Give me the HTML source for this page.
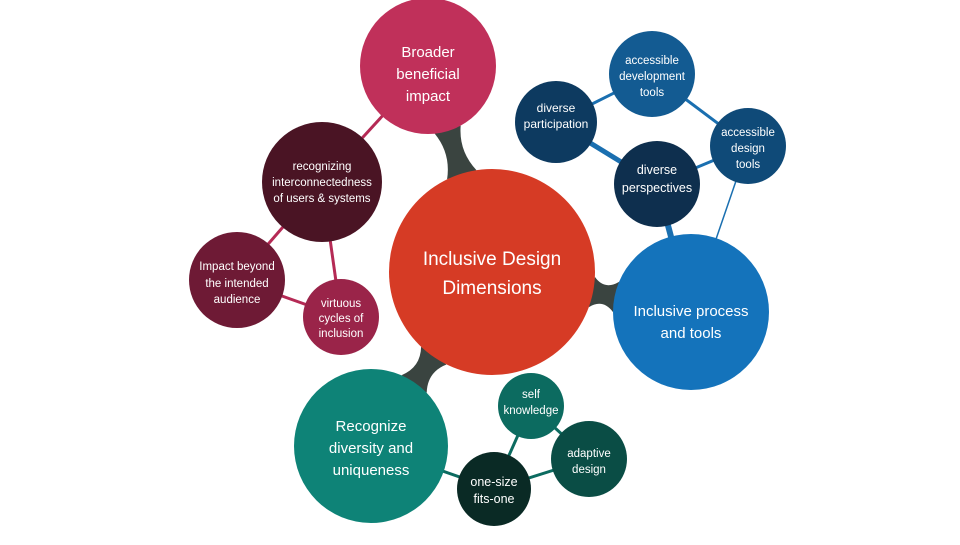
<!DOCTYPE html>
<html><head><meta charset="utf-8"><style>
html,body{margin:0;padding:0;background:#fff;}
svg text{font-family:"Liberation Sans",sans-serif;fill:#fff;text-anchor:middle;}
</style></head><body>
<svg width="960" height="540" viewBox="0 0 960 540" xmlns="http://www.w3.org/2000/svg">
<g fill="#3a4440">
<path d="M460.7 125.6 Q458.6 151.1 476.5 170.2 L447.1 179.3 Q451 153.5 434.7 133.6 Z"/>
<path d="M594.9 276.9 Q604.5 290.6 619.2 281.7 L613.1 312.2 Q602.9 298.4 588.7 307.2 Z"/>
<path d="M446.5 364.5 Q427.3 372 426.7 392.8 L401.5 375.2 Q420.7 367.4 421.1 346.8 Z"/>
</g>
<g stroke="#b52a55" stroke-width="3">
<line x1="428" y1="66" x2="322" y2="182"/>
<line x1="322" y1="182" x2="237" y2="280"/>
<line x1="322" y1="182" x2="341" y2="317"/>
<line x1="237" y1="280" x2="341" y2="317"/>
</g>
<g stroke="#1a6fb0">
<line x1="556" y1="122" x2="652" y2="74" stroke-width="3"/>
<line x1="652" y1="74" x2="748" y2="146" stroke-width="3"/>
<line x1="657" y1="184" x2="748" y2="146" stroke-width="3"/>
<line x1="556" y1="122" x2="657" y2="184" stroke-width="5"/>
<line x1="657" y1="184" x2="691" y2="312" stroke-width="6"/>
<line x1="748" y1="146" x2="691" y2="312" stroke-width="1.5"/>
</g>
<g stroke="#0c6b60" stroke-width="3">
<line x1="371" y1="446" x2="494" y2="489"/>
<line x1="531" y1="406" x2="494" y2="489"/>
<line x1="531" y1="406" x2="589" y2="459"/>
<line x1="589" y1="459" x2="494" y2="489"/>
</g>
<circle cx="492" cy="272" r="103" fill="#d63b25"/>
<circle cx="428" cy="66" r="68" fill="#c0305a"/>
<circle cx="322" cy="182" r="60" fill="#4a1424"/>
<circle cx="237" cy="280" r="48" fill="#6e1a35"/>
<circle cx="341" cy="317" r="38" fill="#9a2449"/>
<circle cx="691" cy="312" r="78" fill="#1473bb"/>
<circle cx="657" cy="184" r="43" fill="#0e2f4e"/>
<circle cx="556" cy="122" r="41" fill="#0d3a60"/>
<circle cx="652" cy="74" r="43" fill="#135b92"/>
<circle cx="748" cy="146" r="38" fill="#0f4a78"/>
<circle cx="371" cy="446" r="77" fill="#0e8377"/>
<circle cx="531" cy="406" r="33" fill="#0c6b60"/>
<circle cx="589" cy="459" r="38" fill="#0a4d45"/>
<circle cx="494" cy="489" r="37" fill="#0a2a25"/>
<text x="492" y="265" font-size="19">Inclusive Design</text>
<text x="492" y="294" font-size="19">Dimensions</text>
<text x="428" y="57" font-size="15">Broader</text>
<text x="428" y="79" font-size="15">beneficial</text>
<text x="428" y="101" font-size="15">impact</text>
<text x="322" y="170" font-size="11.5">recognizing</text>
<text x="322" y="186" font-size="11.5">interconnectedness</text>
<text x="322" y="202" font-size="11.5">of users &amp; systems</text>
<text x="237" y="270" font-size="11.5">Impact beyond</text>
<text x="237" y="287" font-size="11.5">the intended</text>
<text x="237" y="303" font-size="11.5">audience</text>
<text x="341" y="307" font-size="11.5">virtuous</text>
<text x="341" y="322" font-size="11.5">cycles of</text>
<text x="341" y="337" font-size="11.5">inclusion</text>
<text x="691" y="316" font-size="15">Inclusive process</text>
<text x="691" y="338" font-size="15">and tools</text>
<text x="657" y="174" font-size="12.5">diverse</text>
<text x="657" y="192" font-size="12.5">perspectives</text>
<text x="556" y="112" font-size="12">diverse</text>
<text x="556" y="128" font-size="12">participation</text>
<text x="652" y="64" font-size="11.5">accessible</text>
<text x="652" y="80" font-size="11.5">development</text>
<text x="652" y="96" font-size="11.5">tools</text>
<text x="748" y="136" font-size="11.5">accessible</text>
<text x="748" y="152" font-size="11.5">design</text>
<text x="748" y="168" font-size="11.5">tools</text>
<text x="371" y="431" font-size="15">Recognize</text>
<text x="371" y="453" font-size="15">diversity and</text>
<text x="371" y="475" font-size="15">uniqueness</text>
<text x="531" y="398" font-size="11.5">self</text>
<text x="531" y="414" font-size="11.5">knowledge</text>
<text x="589" y="457" font-size="11.5">adaptive</text>
<text x="589" y="473" font-size="11.5">design</text>
<text x="494" y="486" font-size="12.5">one-size</text>
<text x="494" y="503" font-size="12.5">fits-one</text>
</svg>
</body></html>
